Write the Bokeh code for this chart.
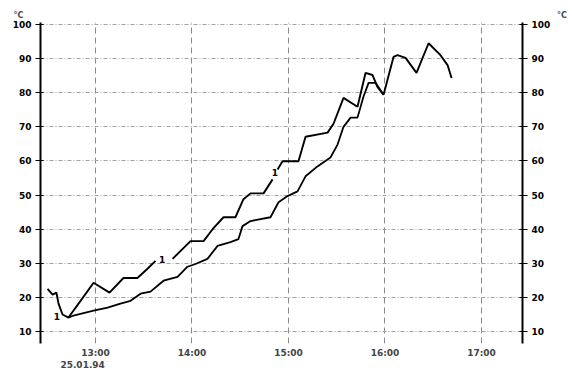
from bokeh.plotting import figure
from bokeh.models import LinearAxis, Range1d, FixedTicker, Title
from bokeh.embed import file_html
from bokeh.resources import INLINE
from bokeh.core.properties import value

# time in minutes after 12:00 (25.01.94), temperature in °C
nan = float("nan")
time_a = [30.2, 33.3, 35.7, 37.0, 39.5, 43.2, 50.7, 58.8, 68.7, 77.4, 86.1, 92.3, 97.3, nan,
          107.9, 119.1, 127.2, 132.8, 139.6, 147.0, 152.0, 156.4, 164.5, 170.1, nan,
          173.2, 176.3, 186.2, 190.6, 204.3, 208.0, 214.2, 222.9, 227.9, 232.2, 235.3,
          239.1, 245.3, 247.8, 252.8, 259.6, 267.1, 274.5, 278.9, 281.4]
temp_a = [22.5, 20.8, 21.4, 18.2, 15.0, 14.1, 19.0, 24.3, 21.4, 25.7, 25.7, 28.4, 30.7, nan,
          31.3, 36.5, 36.5, 40.0, 43.5, 43.5, 48.8, 50.5, 50.5, 54.6, nan,
          57.5, 59.9, 59.9, 67.1, 68.3, 70.9, 78.5, 75.9, 85.8, 85.2, 81.7,
          79.4, 90.5, 91.0, 90.2, 85.8, 94.5, 91.0, 88.1, 84.3]

time_b = [43.2, 46.3, 58.8, 67.5, 75.5, 81.8, 88.0, 94.2, 102.3, 111.0, 117.2, 122.2, 129.6,
          135.9, 143.9, 148.9, 151.4, 156.4, 168.8, 173.8, 179.4, 185.6, 190.6, 198.0,
          206.1, 210.5, 214.2, 218.6, 222.9, 226.6, 229.8, 234.1, 239.1]
temp_b = [14.1, 14.7, 16.1, 17.0, 18.2, 19.0, 21.1, 21.7, 24.9, 26.0, 29.0, 29.8, 31.3,
          35.1, 36.2, 37.1, 40.9, 42.4, 43.5, 47.9, 49.7, 51.1, 55.5, 58.4,
          61.0, 64.8, 70.0, 72.7, 72.7, 78.8, 82.9, 82.9, 79.4]

# curve markers "1"
mark_t = [36.0, 101.5, 171.5]
mark_v = [14.5, 31.0, 56.5]

y_ticks = [10, 20, 30, 40, 50, 60, 70, 80, 90, 100]
x_ticks = [60, 120, 180, 240, 300]
x_tick_labels = ["13:00", "14:00", "15:00", "16:00", "17:00"]
date_tick = [52]
date_label = "25.01.94"
unit_label = "°C"

FONT = "DejaVu Sans"

p = figure(width=572, height=370,
           x_range=Range1d(25.8, 325.5), y_range=Range1d(6.5, 100.58),
           output_backend="svg", toolbar_location=None,
           min_border_left=40, min_border_right=50, min_border_top=22, min_border_bottom=25)
p.outline_line_color = None
p.background_fill_color = "white"
p.border_fill_color = "white"

# unit labels above both axes (one title row, separated by em spaces)
p.add_layout(Title(text=unit_label + "\u2003" * 66 + "\u00a0\u00a0" + unit_label,
                   align="left", offset=-27,
                   text_font=FONT, text_font_style="bold", text_font_size="8px",
                   standoff=5), "above")

# grids
p.xgrid.ticker = FixedTicker(ticks=x_ticks)
p.xgrid.grid_line_color = "#8a8a8a"
p.xgrid.grid_line_dash = "6 4"
p.xgrid.grid_line_width = 1
p.ygrid.ticker = FixedTicker(ticks=y_ticks)
p.ygrid.grid_line_color = "#a0a0a0"
p.ygrid.grid_line_dash = "4 2 1 2"
p.ygrid.grid_line_width = 1

def style_y(ax):
    ax.ticker = FixedTicker(ticks=y_ticks)
    ax.axis_line_width = 2
    ax.axis_line_color = "black"
    ax.major_tick_line_color = "black"
    ax.major_tick_line_width = 1
    ax.major_tick_out = 5
    ax.major_tick_in = 3
    ax.minor_tick_line_color = None
    ax.major_label_text_font = FONT
    ax.major_label_text_font_style = "bold"
    ax.major_label_text_font_size = "9px"
    ax.major_label_text_color = "black"
    ax.major_label_standoff = 4

style_y(p.yaxis[0])
right = LinearAxis()
style_y(right)
p.add_layout(right, "right")

def style_x(ax, ticks, labels, standoff):
    ax.ticker = FixedTicker(ticks=ticks)
    ax.major_label_overrides = {t: s for t, s in zip(ticks, labels)}
    ax.axis_line_color = None
    ax.major_tick_line_color = None
    ax.major_tick_out = 0
    ax.major_tick_in = 0
    ax.minor_tick_line_color = None
    ax.major_label_text_font = FONT
    ax.major_label_text_font_style = "bold"
    ax.major_label_text_font_size = "9px"
    ax.major_label_standoff = standoff

style_x(p.xaxis[0], x_ticks, x_tick_labels, 4)
date_ax = LinearAxis()
style_x(date_ax, date_tick, [date_label], 0)
p.add_layout(date_ax, "below")

# curves
p.line(time_b, temp_b, line_color="black", line_width=1.8)
p.line(time_a, temp_a, line_color="black", line_width=1.9)
p.text(mark_t, mark_v, text=["1"] * len(mark_t), text_font=value(FONT),
       text_font_style="bold", text_font_size="9px", text_align="center",
       text_baseline="middle", text_color="black")

open("out.html", "w").write(file_html(p, INLINE))
